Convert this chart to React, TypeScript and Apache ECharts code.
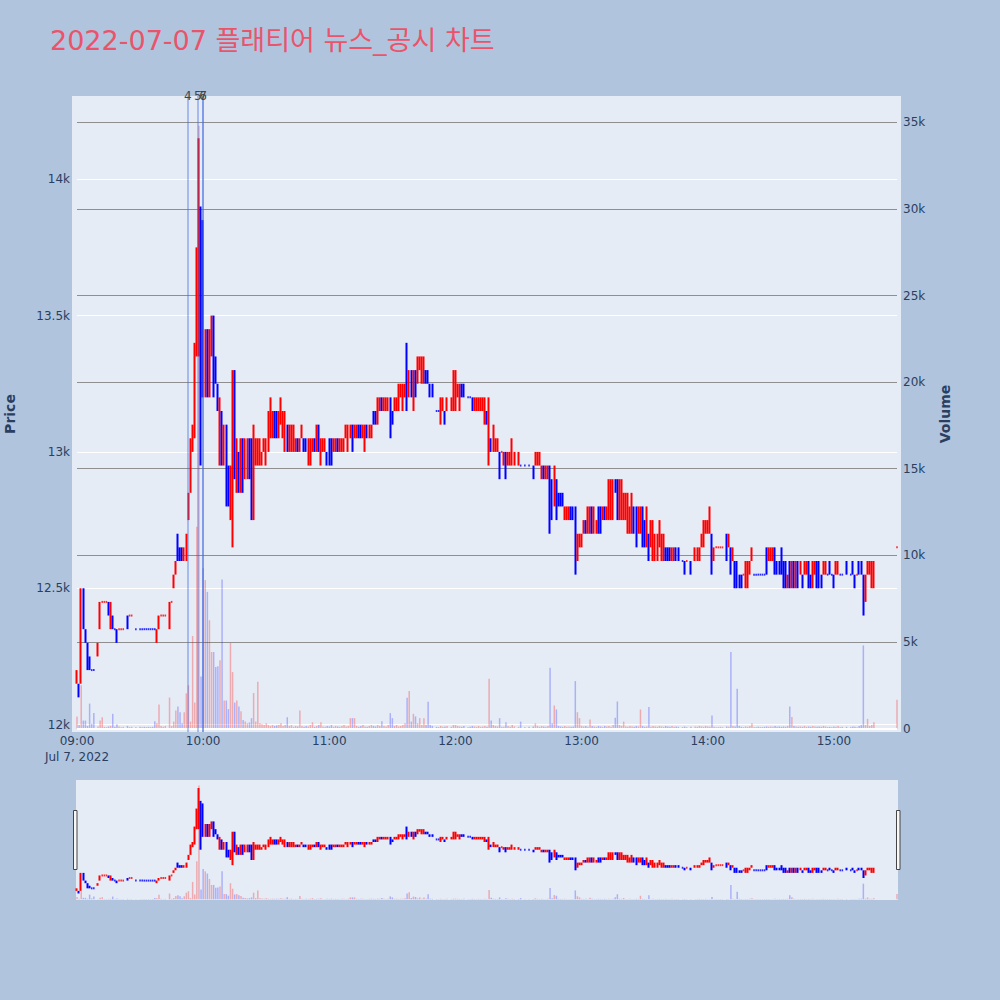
import React, { useEffect, useRef } from 'react';
import * as echarts from 'echarts';

// [minute of hour, open, close, low, high, volume]
type Row = [number, number, number, number, number, number];

const h09: Row[] = [
  [0, 12150, 12200, 12150, 12200, 700], [1, 12150, 12100, 12100, 12150, 200], [2, 12150, 12500, 12150, 12500, 2500],
  [3, 12500, 12350, 12350, 12500, 460], [4, 12350, 12300, 12300, 12350, 460], [5, 12300, 12200, 12200, 12300, 150],
  [6, 12250, 12200, 12200, 12250, 1440], [7, 12200, 12200, 12200, 12200, 270], [8, 12200, 12200, 12200, 12200, 890],
  [10, 12250, 12300, 12250, 12300, 120], [11, 12350, 12450, 12350, 12450, 460], [12, 12450, 12450, 12450, 12450, 650],
  [13, 12450, 12450, 12450, 12450, 100], [14, 12450, 12450, 12450, 12450, 80], [15, 12450, 12400, 12400, 12450, 120],
  [16, 12350, 12450, 12350, 12450, 150], [17, 12400, 12350, 12350, 12400, 850], [18, 12350, 12350, 12350, 12350, 100],
  [19, 12350, 12300, 12300, 12350, 250], [20, 12350, 12350, 12350, 12350, 120], [21, 12350, 12350, 12350, 12350, 80],
  [22, 12350, 12350, 12350, 12350, 100], [24, 12400, 12350, 12350, 12400, 150], [25, 12400, 12400, 12400, 12400, 80],
  [26, 12400, 12400, 12400, 12400, 100], [28, 12350, 12350, 12350, 12350, 80], [30, 12350, 12350, 12350, 12350, 100],
  [31, 12350, 12350, 12350, 12350, 80], [32, 12350, 12350, 12350, 12350, 100], [33, 12350, 12350, 12350, 12350, 80],
  [34, 12350, 12350, 12350, 12350, 100], [35, 12350, 12350, 12350, 12350, 80], [36, 12350, 12350, 12350, 12350, 100],
  [37, 12350, 12350, 12350, 12350, 420], [38, 12300, 12350, 12300, 12350, 300], [39, 12350, 12400, 12350, 12400, 1390],
  [40, 12400, 12400, 12400, 12400, 150], [41, 12400, 12400, 12400, 12400, 100], [42, 12400, 12400, 12400, 12400, 150],
  [44, 12350, 12450, 12350, 12450, 1790], [45, 12450, 12450, 12450, 12450, 150], [46, 12500, 12550, 12500, 12550, 400],
  [47, 12550, 12600, 12550, 12600, 1040], [48, 12650, 12600, 12600, 12700, 1270], [49, 12650, 12600, 12600, 12650, 945],
  [50, 12650, 12600, 12600, 12650, 300], [51, 12600, 12650, 12600, 12650, 945], [52, 12600, 12700, 12600, 12700, 2030],
  [53, 12750, 12850, 12750, 12850, 2490], [54, 12850, 13050, 12850, 13050, 400], [55, 13000, 13100, 13000, 13100, 5340],
  [56, 13050, 13400, 13050, 13400, 1500], [57, 13350, 13750, 13350, 13750, 11650], [58, 13400, 14150, 13350, 14150, 34800],
  [59, 13900, 13200, 12950, 13900, 3000],
];

const h10: Row[] = [
  [0, 13850, 13450, 13200, 13850, 9260], [1, 13200, 13450, 13200, 13450, 8570], [2, 13450, 13200, 13200, 13450, 7890],
  [3, 13200, 13450, 13200, 13450, 6250], [4, 13350, 13500, 13350, 13500, 4420], [5, 13500, 13200, 13200, 13500, 4420],
  [6, 13350, 13250, 13250, 13350, 3550], [7, 13250, 13150, 13150, 13250, 3600], [8, 13100, 13150, 12950, 13200, 3940],
  [9, 13150, 12950, 12950, 13150, 8610], [10, 12950, 13100, 12950, 13100, 1620], [11, 13100, 12800, 12800, 13100, 1620],
  [12, 12950, 12800, 12800, 12950, 1120], [13, 12800, 12950, 12750, 12950, 4940], [14, 12900, 13300, 12650, 13300, 3260],
  [15, 13300, 12900, 12900, 13300, 1500], [16, 12850, 13050, 12850, 13050, 1620], [17, 13000, 12850, 12850, 13000, 1270],
  [18, 12850, 13050, 12850, 13050, 1000], [19, 13050, 12850, 12850, 13050, 500], [20, 12900, 13050, 12900, 13050, 400],
  [21, 12900, 13050, 12900, 13050, 300], [22, 13050, 12900, 12900, 13050, 350], [23, 13050, 12800, 12750, 13050, 600],
  [24, 12850, 13100, 12750, 13100, 2050], [25, 12950, 13050, 12950, 13050, 400], [26, 12950, 13050, 12950, 13050, 2700],
  [27, 12950, 13050, 12950, 13050, 300], [28, 12950, 13000, 12950, 13000, 250], [29, 13000, 13050, 13000, 13050, 200],
  [30, 12950, 13050, 12950, 13050, 300], [31, 13000, 13150, 13000, 13150, 200], [32, 13050, 13150, 13050, 13200, 150],
  [33, 13050, 13150, 13050, 13150, 200], [34, 13150, 13050, 13050, 13150, 150], [35, 13150, 13050, 13050, 13150, 180],
  [36, 13050, 13150, 13050, 13150, 200], [37, 13100, 13150, 13100, 13200, 300], [38, 13050, 13150, 13050, 13150, 150],
  [39, 13000, 13150, 13000, 13150, 200], [40, 13100, 13000, 13000, 13100, 650], [41, 13000, 13100, 13000, 13100, 150],
  [42, 13000, 13100, 13000, 13100, 200], [43, 13000, 13100, 13000, 13100, 100], [44, 13000, 13050, 13000, 13050, 150],
  [45, 13050, 13000, 13000, 13050, 120], [46, 13000, 13050, 13000, 13050, 1040], [47, 13050, 13100, 13050, 13100, 150],
  [48, 13050, 13000, 13000, 13050, 100], [49, 13050, 13000, 13000, 13050, 150], [50, 12950, 13050, 12950, 13050, 120],
  [51, 12950, 13050, 12950, 13050, 200], [52, 13000, 13050, 13000, 13050, 365], [53, 13050, 13000, 13000, 13050, 100],
  [54, 13000, 13100, 13000, 13100, 150], [55, 13100, 13000, 13000, 13100, 200], [56, 12950, 13050, 12950, 13050, 360],
  [57, 13000, 13050, 13000, 13050, 120], [58, 13000, 13050, 13000, 13050, 100], [59, 13000, 12950, 12950, 13000, 150],
];

const h11: Row[] = [
  [0, 13050, 12950, 12950, 13050, 120], [1, 13050, 12950, 12950, 13050, 200], [2, 13000, 13050, 13000, 13050, 100],
  [3, 13000, 13050, 13000, 13050, 150], [4, 13050, 13000, 13000, 13050, 120], [5, 13000, 13050, 13000, 13050, 100],
  [6, 13000, 13050, 13000, 13050, 150], [7, 13000, 13050, 13000, 13050, 200], [8, 13050, 13100, 13050, 13100, 120],
  [9, 13000, 13100, 13000, 13100, 150], [10, 13050, 13100, 13050, 13100, 600], [11, 13100, 13000, 13000, 13100, 600],
  [12, 13050, 13100, 13050, 13100, 600], [13, 13050, 13100, 13050, 13100, 150], [14, 13100, 13050, 13050, 13100, 100],
  [15, 13100, 13050, 13050, 13100, 150], [16, 13050, 13100, 13050, 13100, 200], [17, 13000, 13100, 13000, 13100, 120],
  [18, 13100, 13050, 13050, 13100, 100], [19, 13050, 13100, 13050, 13100, 150], [20, 13050, 13100, 13050, 13100, 200],
  [21, 13150, 13100, 13100, 13150, 150], [22, 13150, 13100, 13100, 13150, 120], [23, 13100, 13200, 13100, 13200, 200],
  [24, 13150, 13200, 13150, 13200, 150], [25, 13200, 13150, 13150, 13200, 420], [26, 13150, 13200, 13150, 13200, 150],
  [27, 13150, 13200, 13150, 13200, 120], [28, 13150, 13200, 13150, 13200, 200], [29, 13200, 13100, 13050, 13200, 890],
  [30, 13150, 13100, 13100, 13150, 600], [31, 13150, 13200, 13150, 13200, 150], [32, 13150, 13200, 13150, 13200, 200],
  [33, 13150, 13250, 13150, 13250, 120], [34, 13200, 13250, 13200, 13250, 150], [35, 13150, 13250, 13150, 13250, 200],
  [36, 13200, 13250, 13200, 13250, 300], [37, 13400, 13150, 13150, 13400, 1780], [38, 13200, 13300, 13200, 13300, 2160],
  [39, 13300, 13200, 13200, 13300, 400], [40, 13150, 13300, 13150, 13300, 850], [41, 13300, 13200, 13200, 13300, 700],
  [42, 13250, 13350, 13250, 13350, 300], [43, 13300, 13350, 13300, 13350, 600], [44, 13250, 13350, 13250, 13350, 200],
  [45, 13250, 13350, 13250, 13350, 600], [46, 13300, 13250, 13250, 13300, 200], [47, 13300, 13250, 13250, 13300, 1540],
  [48, 13250, 13200, 13200, 13250, 200], [49, 13250, 13200, 13200, 13250, 150], [51, 13150, 13150, 13150, 13150, 100],
  [52, 13150, 13150, 13150, 13150, 80], [53, 13100, 13200, 13100, 13200, 150], [54, 13150, 13200, 13150, 13200, 100],
  [55, 13150, 13100, 13100, 13150, 120], [56, 13150, 13200, 13150, 13200, 150], [58, 13150, 13200, 13150, 13200, 100],
  [59, 13150, 13300, 13150, 13300, 200],
];

const h12: Row[] = [
  [0, 13150, 13300, 13150, 13300, 200], [1, 13200, 13250, 13200, 13250, 150], [2, 13150, 13250, 13150, 13250, 120],
  [3, 13250, 13200, 13200, 13250, 100], [4, 13250, 13200, 13200, 13250, 150], [6, 13200, 13200, 13200, 13200, 80],
  [7, 13200, 13200, 13200, 13200, 100], [8, 13200, 13150, 13150, 13200, 150], [9, 13150, 13200, 13150, 13200, 120],
  [10, 13150, 13200, 13150, 13200, 100], [11, 13150, 13200, 13150, 13200, 150], [12, 13150, 13200, 13150, 13200, 100],
  [13, 13150, 13200, 13150, 13200, 120], [14, 13100, 13200, 13100, 13200, 150], [15, 13150, 13100, 13100, 13150, 100],
  [16, 13100, 13200, 12950, 13200, 2880], [17, 13050, 13000, 13000, 13050, 463], [18, 13000, 13100, 13000, 13100, 200],
  [19, 13000, 13050, 13000, 13050, 150], [20, 13000, 13050, 13000, 13050, 120], [21, 13000, 12900, 12900, 13000, 600],
  [22, 13000, 13000, 13000, 13000, 100], [23, 12950, 13000, 12950, 13000, 100], [24, 13000, 12900, 12900, 13000, 370],
  [25, 12950, 13000, 12950, 13000, 150], [26, 12950, 13000, 12950, 13000, 100], [27, 12950, 13050, 12950, 13050, 200],
  [28, 12950, 13000, 12950, 13000, 120], [30, 12950, 13000, 12950, 13000, 100], [31, 12950, 12950, 12950, 12950, 400],
  [33, 12950, 12950, 12950, 12950, 80], [35, 12950, 12950, 12950, 12950, 100], [37, 12950, 12900, 12900, 12950, 120],
  [38, 12950, 13000, 12950, 13000, 300], [39, 12950, 13000, 12950, 13000, 150], [40, 12950, 13000, 12950, 13000, 100],
  [41, 12900, 12950, 12900, 12950, 150], [42, 12950, 12900, 12900, 12950, 120], [43, 12900, 12950, 12900, 12950, 100],
  [44, 12900, 12950, 12900, 12950, 150], [45, 12950, 12800, 12700, 12950, 3510], [46, 12900, 12750, 12750, 12900, 300],
  [47, 12800, 12950, 12800, 12950, 1330], [48, 12900, 12750, 12750, 12900, 1100], [49, 12850, 12800, 12800, 12850, 150],
  [50, 12850, 12800, 12800, 12850, 120], [51, 12850, 12800, 12800, 12850, 100], [52, 12750, 12800, 12750, 12800, 150],
  [53, 12750, 12800, 12750, 12800, 100], [54, 12750, 12800, 12750, 12800, 120], [55, 12800, 12750, 12750, 12800, 100],
  [56, 12800, 12750, 12750, 12800, 120], [57, 12800, 12600, 12550, 12800, 2740], [58, 12600, 12700, 12600, 12700, 945],
  [59, 12650, 12700, 12650, 12700, 600],
];

const h13: Row[] = [
  [0, 12650, 12700, 12650, 12700, 150], [1, 12700, 12750, 12700, 12750, 120], [2, 12750, 12700, 12700, 12750, 150],
  [3, 12700, 12800, 12700, 12800, 100], [4, 12700, 12800, 12700, 12800, 520], [5, 12800, 12700, 12700, 12800, 150],
  [6, 12700, 12800, 12700, 12800, 120], [7, 12700, 12750, 12700, 12750, 100], [8, 12800, 12700, 12700, 12800, 150],
  [9, 12800, 12700, 12700, 12800, 120], [10, 12750, 12800, 12750, 12800, 100], [11, 12800, 12750, 12750, 12800, 150],
  [12, 12750, 12800, 12750, 12800, 120], [13, 12750, 12900, 12750, 12900, 150], [14, 12750, 12900, 12750, 12900, 100],
  [15, 12750, 12900, 12750, 12900, 200], [16, 12900, 12850, 12850, 12900, 620], [17, 12900, 12750, 12750, 12900, 1560],
  [18, 12750, 12900, 12750, 12900, 200], [19, 12750, 12900, 12750, 12900, 150], [20, 12750, 12850, 12750, 12850, 400],
  [21, 12750, 12850, 12750, 12850, 120], [22, 12700, 12850, 12700, 12850, 100], [23, 12700, 12800, 12700, 12800, 150],
  [24, 12700, 12850, 12700, 12850, 120], [25, 12800, 12700, 12700, 12800, 100], [26, 12800, 12650, 12650, 12800, 150],
  [27, 12700, 12800, 12700, 12800, 120], [28, 12700, 12800, 12700, 12800, 1100], [29, 12800, 12650, 12650, 12800, 150],
  [30, 12750, 12650, 12650, 12750, 100], [31, 12650, 12800, 12650, 12800, 120], [32, 12700, 12600, 12600, 12700, 1240],
  [33, 12650, 12750, 12650, 12750, 100], [34, 12600, 12750, 12600, 12750, 150], [35, 12600, 12700, 12600, 12700, 120],
  [36, 12600, 12700, 12600, 12700, 100], [37, 12650, 12750, 12650, 12750, 150], [38, 12600, 12700, 12600, 12700, 120],
  [39, 12600, 12700, 12600, 12700, 100], [40, 12650, 12600, 12600, 12650, 150], [41, 12650, 12600, 12600, 12650, 120],
  [42, 12650, 12600, 12600, 12650, 100], [43, 12600, 12650, 12600, 12650, 150], [44, 12600, 12650, 12600, 12650, 100],
  [45, 12650, 12600, 12600, 12650, 120], [46, 12650, 12600, 12600, 12650, 100], [48, 12600, 12600, 12600, 12600, 80],
  [49, 12600, 12550, 12550, 12600, 120], [50, 12600, 12600, 12600, 12600, 80], [52, 12600, 12550, 12550, 12600, 100],
  [54, 12600, 12650, 12600, 12650, 120], [55, 12600, 12650, 12600, 12650, 100], [56, 12600, 12650, 12600, 12650, 150],
  [57, 12650, 12700, 12650, 12700, 120], [58, 12650, 12750, 12650, 12750, 100], [59, 12700, 12750, 12700, 12750, 150],
];

const h14: Row[] = [
  [0, 12700, 12750, 12700, 12750, 120], [1, 12700, 12800, 12700, 12800, 100], [2, 12700, 12650, 12550, 12700, 750],
  [3, 12600, 12650, 12600, 12650, 100], [4, 12650, 12650, 12650, 12650, 80], [5, 12650, 12650, 12650, 12650, 80],
  [6, 12650, 12650, 12650, 12650, 100], [7, 12650, 12650, 12650, 12650, 80], [9, 12700, 12600, 12600, 12700, 120],
  [10, 12650, 12700, 12650, 12700, 100], [11, 12650, 12550, 12550, 12650, 4420], [12, 12600, 12650, 12600, 12650, 150],
  [13, 12600, 12500, 12500, 12600, 120], [14, 12600, 12500, 12500, 12600, 2300], [15, 12550, 12500, 12500, 12550, 150],
  [16, 12550, 12500, 12500, 12550, 100], [17, 12550, 12550, 12550, 12550, 80], [18, 12500, 12600, 12500, 12600, 120],
  [19, 12500, 12600, 12500, 12600, 100], [20, 12550, 12600, 12550, 12600, 150], [21, 12600, 12650, 12600, 12650, 310],
  [22, 12550, 12550, 12550, 12550, 80], [23, 12550, 12550, 12550, 12550, 80], [24, 12550, 12550, 12550, 12550, 100],
  [25, 12550, 12550, 12550, 12550, 80], [26, 12550, 12550, 12550, 12550, 80], [27, 12550, 12550, 12550, 12550, 100],
  [28, 12650, 12550, 12550, 12650, 120], [29, 12600, 12650, 12600, 12650, 100], [30, 12600, 12650, 12600, 12650, 120],
  [31, 12600, 12650, 12600, 12650, 100], [32, 12650, 12550, 12550, 12650, 150], [33, 12600, 12550, 12550, 12600, 100],
  [34, 12600, 12550, 12550, 12600, 120], [35, 12650, 12550, 12550, 12650, 100], [36, 12600, 12500, 12500, 12600, 120],
  [37, 12600, 12500, 12500, 12600, 100], [38, 12500, 12550, 12500, 12550, 150], [39, 12600, 12500, 12500, 12600, 1270],
  [40, 12500, 12600, 12500, 12600, 660], [41, 12600, 12500, 12500, 12600, 150], [42, 12500, 12600, 12500, 12600, 120],
  [43, 12600, 12500, 12500, 12600, 100], [44, 12550, 12600, 12550, 12600, 120], [45, 12550, 12500, 12500, 12550, 100],
  [46, 12550, 12600, 12550, 12600, 150], [47, 12550, 12600, 12550, 12600, 100], [48, 12600, 12500, 12500, 12600, 120],
  [49, 12550, 12500, 12500, 12550, 100], [50, 12500, 12600, 12500, 12600, 150], [51, 12550, 12600, 12550, 12600, 120],
  [52, 12600, 12500, 12500, 12600, 100], [53, 12600, 12500, 12500, 12600, 120], [54, 12550, 12500, 12500, 12550, 100],
  [55, 12550, 12600, 12550, 12600, 150], [56, 12550, 12600, 12550, 12600, 120], [57, 12550, 12550, 12550, 12550, 80],
  [58, 12600, 12550, 12550, 12600, 100], [59, 12550, 12550, 12550, 12550, 80],
];

const h15: Row[] = [
  [0, 12550, 12500, 12500, 12550, 120], [1, 12550, 12600, 12550, 12600, 100], [2, 12550, 12600, 12550, 12600, 150],
  [3, 12550, 12550, 12550, 12550, 80], [4, 12550, 12550, 12550, 12550, 100], [6, 12600, 12550, 12550, 12600, 100],
  [8, 12550, 12550, 12550, 12550, 80], [9, 12600, 12550, 12550, 12600, 120], [10, 12550, 12500, 12500, 12550, 100],
  [11, 12550, 12550, 12550, 12550, 80], [12, 12600, 12550, 12550, 12600, 150], [13, 12600, 12550, 12550, 12600, 200],
  [14, 12550, 12450, 12400, 12550, 4800], [15, 12450, 12550, 12450, 12550, 200], [16, 12550, 12600, 12550, 12600, 560],
  [17, 12550, 12600, 12550, 12600, 150], [18, 12500, 12600, 12500, 12600, 200], [19, 12500, 12600, 12500, 12600, 370],
  [30, 12650, 12650, 12650, 12650, 1660],
];

const hourLabels = ['09:00', '10:00', '11:00', '12:00', '13:00', '14:00', '15:00'];
const dateLabel = 'Jul 7, 2022';
const newsMinutes = [52.7, 57.5, 59.9, 60.0];
const newsLabels = ['4', '5', '6', '7'];
const titleText = '2022-07-07 플래티어 뉴스_공시 차트';

const FONT = '"DejaVu Sans", "Noto Sans CJK KR", sans-serif';
const UP = '#FF0000';
const DOWN = '#0000FF';
const VOL_UP = 'rgba(255,0,0,0.28)';
const VOL_DOWN = 'rgba(0,0,255,0.25)';
const TICK_COLOR = '#2a3f5f';

const PRICE_MIN = 11973;
const PRICE_MAX = 14305;
const VOL_MIN = -200;
const VOL_MAX = 36520;

function buildRows() {
  const hours = [h09, h10, h11, h12, h13, h14, h15];
  const rows = hours.flatMap((arr, hi) =>
    arr.map(([mm, o, c, l, h, v]) => ({ t: hi * 60 + mm, o, c, l, h, v, dir: 1 }))
  );
  let prevDir = 1;
  let prevClose: number | null = null;
  rows.forEach((r) => {
    let d: number;
    if (r.c > r.o) d = 1;
    else if (r.c < r.o) d = -1;
    else if (prevClose !== null && r.c > prevClose) d = 1;
    else if (prevClose !== null && r.c < prevClose) d = -1;
    else d = prevDir;
    r.dir = d;
    prevDir = d;
    prevClose = r.c;
  });
  return rows;
}

const priceFmt = (v: number) => {
  if (Math.abs(v % 500) > 1e-6) return '';
  const k = v / 1000;
  return (Number.isInteger(k) ? String(k) : k.toFixed(1)) + 'k';
};
const volFmt = (v: number) => {
  if (Math.abs(v % 5000) > 1e-6) return '';
  if (v === 0) return '0';
  return v / 1000 + 'k';
};
const timeFmt = (v: number) => {
  if (Math.abs(v % 60) > 1e-6) return '';
  const idx = Math.round(v / 60);
  const lab = hourLabels[idx] ?? '';
  return idx === 0 ? lab + '\n' + dateLabel : lab;
};

function buildOption() {
  const rows = buildRows();
  const candleData = rows.map((r) => {
    const col = r.dir > 0 ? UP : DOWN;
    return {
      value: [r.t, r.o, r.c, r.l, r.h],
      itemStyle: { color: col, color0: col, borderColor: col, borderColor0: col, borderColorDoji: col },
    };
  });
  const dojiData = rows
    .filter((r) => r.o === r.c && r.l === r.h)
    .map((r) => ({ value: [r.t, r.c], itemStyle: { color: r.dir > 0 ? UP : DOWN } }));
  const volData = rows.map((r) => ({
    value: [r.t, r.v],
    itemStyle: { color: r.dir > 0 ? VOL_UP : VOL_DOWN },
  }));

  const candleCommon = {
    type: 'candlestick',
    encode: { x: 0, y: [1, 2, 3, 4] },
    barWidth: 1,
    itemStyle: { borderWidth: 2 },
    clip: false,
    z: 3,
  };
  const dojiCommon = {
    type: 'scatter',
    symbol: 'rect',
    symbolSize: [1.6, 2],
    clip: false,
    z: 3,
    silent: true,
  };

  const gridCommon = { left: 77, right: 103, containLabel: false, outerBoundsMode: 'none' };

  return {
    animation: false,
    backgroundColor: '#B0C4DE',
    textStyle: { fontFamily: FONT },
    title: {
      text: titleText,
      left: 50,
      top: 27,
      padding: 0,
      textStyle: { color: '#E9546B', fontSize: 27, fontWeight: 'normal', fontFamily: FONT },
    },
    graphic: [
      { type: 'rect', z: -10, silent: true, shape: { x: 72, y: 96, width: 829, height: 636 }, style: { fill: '#E5ECF6' } },
      { type: 'rect', z: -10, silent: true, shape: { x: 76, y: 780, width: 822, height: 120 }, style: { fill: '#E5ECF6' } },
      { type: 'rect', z: 50, silent: true, shape: { x: 73.5, y: 810.5, width: 3.5, height: 59 }, style: { fill: '#f8f8f8', stroke: '#444', lineWidth: 1 } },
      { type: 'rect', z: 50, silent: true, shape: { x: 896.5, y: 810.5, width: 3.5, height: 59 }, style: { fill: '#f8f8f8', stroke: '#444', lineWidth: 1 } },
    ],
    grid: [
      { ...gridCommon, top: 96, height: 636 },
      { ...gridCommon, top: 780, height: 120 },
    ],
    xAxis: [
      {
        type: 'value', gridIndex: 0, min: 0, max: 390, splitNumber: 6, minInterval: 60, maxInterval: 60,
        axisLine: { show: false }, axisTick: { show: false }, splitLine: { show: false },
        axisLabel: { formatter: timeFmt, margin: 1, color: TICK_COLOR, fontSize: 12, lineHeight: 16, fontFamily: FONT },
      },
      { type: 'value', gridIndex: 1, min: 0, max: 390, show: false },
    ],
    yAxis: [
      {
        type: 'value', gridIndex: 0, position: 'left', min: PRICE_MIN, max: PRICE_MAX,
        splitNumber: 5, minInterval: 500, maxInterval: 500,
        axisLine: { show: false }, axisTick: { show: false },
        axisLabel: { formatter: priceFmt, margin: 7, color: TICK_COLOR, fontSize: 12, fontFamily: FONT },
        splitLine: { show: true, showMinLine: false, showMaxLine: false, lineStyle: { color: '#ffffff', width: 1 } },
        name: 'Price', nameLocation: 'middle', nameRotate: 90, nameGap: 60,
        nameTextStyle: { color: TICK_COLOR, fontSize: 14, fontWeight: 'bold', fontFamily: FONT },
      },
      {
        type: 'value', gridIndex: 0, position: 'right', min: VOL_MIN, max: VOL_MAX,
        splitNumber: 7, minInterval: 5000, maxInterval: 5000,
        axisLine: { show: false }, axisTick: { show: false },
        axisLabel: { formatter: volFmt, margin: 6, color: TICK_COLOR, fontSize: 12, fontFamily: FONT },
        splitLine: { show: true, showMinLine: false, showMaxLine: false, lineStyle: { color: '#8f8f8f', width: 1 } },
        name: 'Volume', nameLocation: 'middle', nameRotate: 90, nameGap: 41,
        nameTextStyle: { color: TICK_COLOR, fontSize: 14, fontWeight: 'bold', fontFamily: FONT },
      },
      { type: 'value', gridIndex: 1, min: PRICE_MIN, max: PRICE_MAX, show: false },
      { type: 'value', gridIndex: 1, min: VOL_MIN, max: VOL_MAX, show: false },
    ],
    series: [
      {
        name: 'Volume', type: 'bar', xAxisIndex: 0, yAxisIndex: 1, data: volData, barWidth: 1.5, clip: false, z: 2,
        markLine: {
          silent: true, symbol: ['none', 'none'], label: { show: false },
          lineStyle: { color: '#ffffff', width: 2, type: 'solid' },
          data: [{ yAxis: 0 }],
        },
      },
      {
        ...candleCommon, name: 'Price', xAxisIndex: 0, yAxisIndex: 0, data: candleData,
        markLine: {
          silent: true, symbol: ['none', 'none'],
          lineStyle: { color: 'rgba(65,105,225,0.5)', width: 1.5, type: 'solid' },
          label: { show: true, position: 'end', distance: -6, color: '#444', fontSize: 12, fontFamily: FONT },
          data: newsMinutes.map((m, i) => ({ xAxis: m, label: { formatter: newsLabels[i] } })),
        },
      },
      { ...dojiCommon, name: 'PriceFlat', xAxisIndex: 0, yAxisIndex: 0, data: dojiData },
      { name: 'VolumeMini', type: 'bar', xAxisIndex: 1, yAxisIndex: 3, data: volData, barWidth: 1.5, clip: false, z: 2 },
      { ...candleCommon, name: 'PriceMini', xAxisIndex: 1, yAxisIndex: 2, data: candleData },
      { ...dojiCommon, name: 'PriceFlatMini', xAxisIndex: 1, yAxisIndex: 2, data: dojiData },
    ],
  };
}

export default function App() {
  const ref = useRef<HTMLDivElement>(null);
  useEffect(() => {
    if (!ref.current) return;
    const chart = echarts.init(ref.current, undefined, { renderer: 'svg' });
    chart.setOption(buildOption() as any);
    return () => chart.dispose();
  }, []);
  return <div ref={ref} style={{ position: 'absolute', left: 0, top: 0, width: 1000, height: 1000 }} />;
}
